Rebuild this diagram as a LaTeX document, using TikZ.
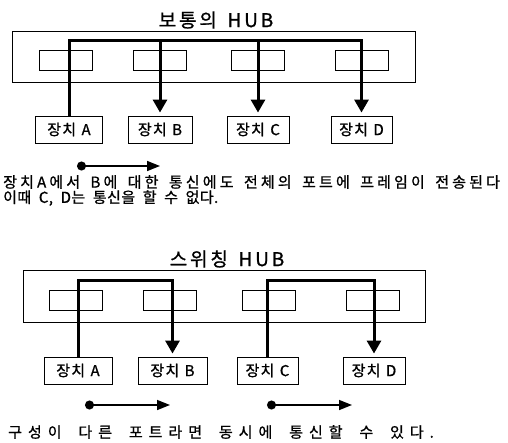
\documentclass[tikz,border=0pt]{standalone}
\usepackage{fontspec}
\newfontfamily\krlabel{Noto Sans CJK KR}[LetterSpace=8, WordSpace=1.2, FakeBold=1]
\newfontfamily\krtitle{Noto Sans CJK KR}[LetterSpace=15, WordSpace=1.5, FakeBold=1]
\newfontfamily\krwide{Noto Sans CJK KR}[LetterSpace=21, WordSpace=1.6, FakeBold=1]
\newfontfamily\krtight{Noto Sans CJK KR}[LetterSpace=3, WordSpace=2, FakeBold=1]
\newfontfamily\krloose{Noto Sans CJK KR}[LetterSpace=40, WordSpace=1.8, FakeBold=1]
\usetikzlibrary{arrows.meta}

\tikzset{
  hub/.style={draw, line width=0.8pt, inner sep=0pt},
  port/.style={draw, line width=0.8pt, inner sep=0pt, minimum width=53pt, minimum height=20pt},
  device/.style={draw, line width=0.9pt, inner sep=0pt, minimum height=27pt, font=\krlabel\fontsize{15}{17}\selectfont},
  bus/.style={line width=3pt},
  busarrow/.style={line width=3pt, -{Triangle[length=13pt, width=14pt]}, shorten >=3pt},
  flow/.style={line width=1.5pt, {Circle[length=9pt]}-{Triangle[length=13pt, width=10pt]}},
  title/.style={font=\krtitle\fontsize{19}{21}\selectfont},
  note/.style={anchor=west, inner sep=0pt}
}

\begin{document}
\begin{tikzpicture}[x=1pt, y=-1pt]
    \useasboundingbox (0,0) rectangle (508,442);

    % Normal hub
    \node[title] (title1) at (216,20) {보통의 HUB};
    \node[hub, minimum width=403pt, minimum height=51pt] (hub1) at (213.5,56.5) {};
    \node[port] (p1a) at (65.5,60) {};
    \node[port] (p1b) at (159.5,60) {};
    \node[port] (p1c) at (258,60) {};
    \node[port] (p1d) at (361.5,60) {};
    \coordinate (bus1) at (0,40);

    \node[device, minimum width=67pt] (d1a) at (69,129.5) {장치 A};
    \node[device, minimum width=64pt] (d1b) at (160,129.5) {장치 B};
    \node[device, minimum width=62pt] (d1c) at (258,129.5) {장치 C};
    \node[device, minimum width=61pt] (d1d) at (361.5,129.5) {장치 D};

    \draw[busarrow] (d1a.north) -- (d1a.north |- bus1) -- (d1d.north |- bus1) -- (d1d.north);
    \draw[busarrow] (d1b.north |- bus1) -- (d1b.north);
    \draw[busarrow] (d1c.north |- bus1) -- (d1c.north);

    \coordinate (f1s) at (77,166);
    \coordinate (f1e) at (160,166);
    \draw[flow] (f1s) -- (f1e);

    \node[note, font=\krwide\fontsize{15}{17}\selectfont] (text1) at (3,182) {장치A에서 B에 대한 통신에도 전체의 포트에 프레임이 전송된다};
    \node[note, font=\krtight\fontsize{15}{17}\selectfont] (text2) at (3,198) {이때 C, D는 통신을 할 수 없다.};

    % Switching hub
    \node[title] (title2) at (227,259) {스위칭 HUB};
    \node[hub, minimum width=402pt, minimum height=52pt] (hub2) at (224,296) {};
    \node[port] (p2a) at (75.5,300.5) {};
    \node[port] (p2b) at (170,300.5) {};
    \node[port] (p2c) at (268.5,300.5) {};
    \node[port] (p2d) at (373,300.5) {};
    \coordinate (bus2) at (0,280);

    \node[device, minimum width=68pt] (d2a) at (78,370.5) {장치 A};
    \node[device, minimum width=69pt] (d2b) at (172.5,370.5) {장치 B};
    \node[device, minimum width=61pt] (d2c) at (267.5,370.5) {장치 C};
    \node[device, minimum width=62pt] (d2d) at (374,370.5) {장치 D};

    \draw[busarrow] (d2a.north) -- (d2a.north |- bus2) -- (d2b.north |- bus2) -- (d2b.north);
    \draw[busarrow] (d2c.north) -- (d2c.north |- bus2) -- (d2d.north |- bus2) -- (d2d.north);

    \coordinate (f2s) at (85,405);
    \coordinate (f2e) at (170,405);
    \coordinate (f3s) at (267,405);
    \coordinate (f3e) at (352,405);
    \draw[flow] (f2s) -- (f2e);
    \draw[flow] (f3s) -- (f3e);

    \node[note, font=\krloose\fontsize{15}{17}\selectfont] (text3) at (8,432) {구성이 다른 포트라면 동시에 통신할 수 있다.};
\end{tikzpicture}
\end{document}
